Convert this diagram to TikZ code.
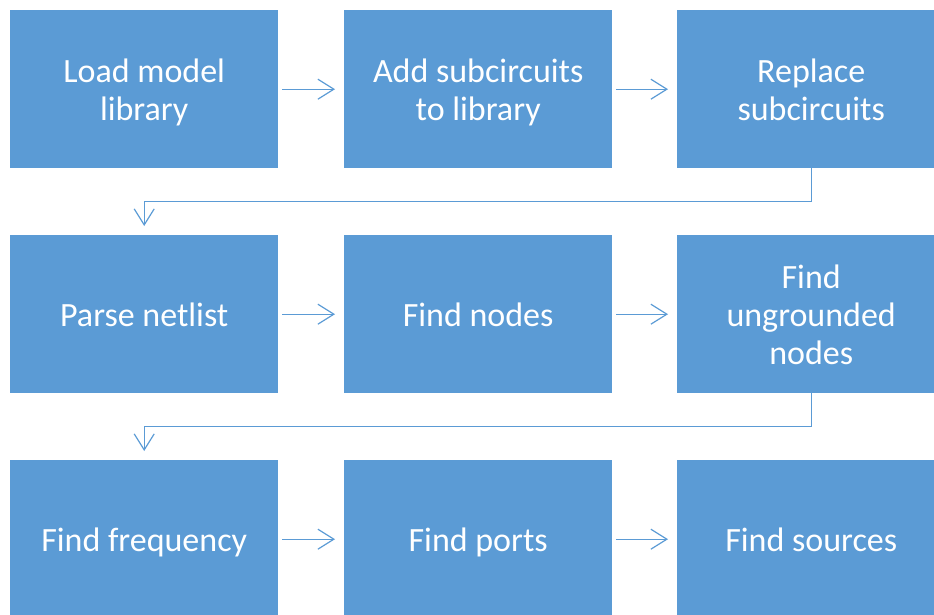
\documentclass[tikz,border=0pt]{standalone}
\usepackage{fontspec}
\setmainfont{Carlito}
\usetikzlibrary{arrows.meta}
\definecolor{stepblue}{HTML}{5B9BD5}
\tikzset{
  stepbox/.style={fill=stepblue, draw=none, minimum width=268pt, minimum height=158pt,
    inner sep=0pt, text=white, align=center, anchor=north west, text depth=0pt,
    font=\fontsize{34}{38}\selectfont},
  flow/.style={draw=stepblue, line width=1.2pt,
    -{Straight Barb[length=16pt,width=20pt,line width=1.2pt]}},
}
\begin{document}
\begin{tikzpicture}[x=1pt,y=-1pt]
\useasboundingbox (0,0) rectangle (934,615);
% row 1
\node[stepbox] (load)  at (10,10)  {Load model\\library};
\node[stepbox] (add)   at (344,10) {Add subcircuits\\to library};
\node[stepbox] (repl)  at (677,10) {Replace\\subcircuits};
% row 2
\node[stepbox] (parse) at (10,235)  {Parse netlist};
\node[stepbox] (nodes) at (344,235) {Find nodes};
\node[stepbox] (ungr)  at (677,235) {Find\\ungrounded\\nodes};
% row 3
\node[stepbox] (freq)  at (10,460)  {Find frequency};
\node[stepbox] (ports) at (344,460) {Find ports};
\node[stepbox] (src)   at (677,460) {Find sources};
% horizontal connectors
\foreach \a/\b in {load/add, add/repl, parse/nodes, nodes/ungr, freq/ports, ports/src}
  \draw[flow, shorten <=4pt, shorten >=9pt] (\a.east) -- (\b.west);
% wrap-around connectors
\draw[flow, shorten >=9pt] (repl.south) -- ++(0,33) -| (parse.north);
\draw[flow, shorten >=9pt] (ungr.south) -- ++(0,33) -| (freq.north);
\end{tikzpicture}
\end{document}
